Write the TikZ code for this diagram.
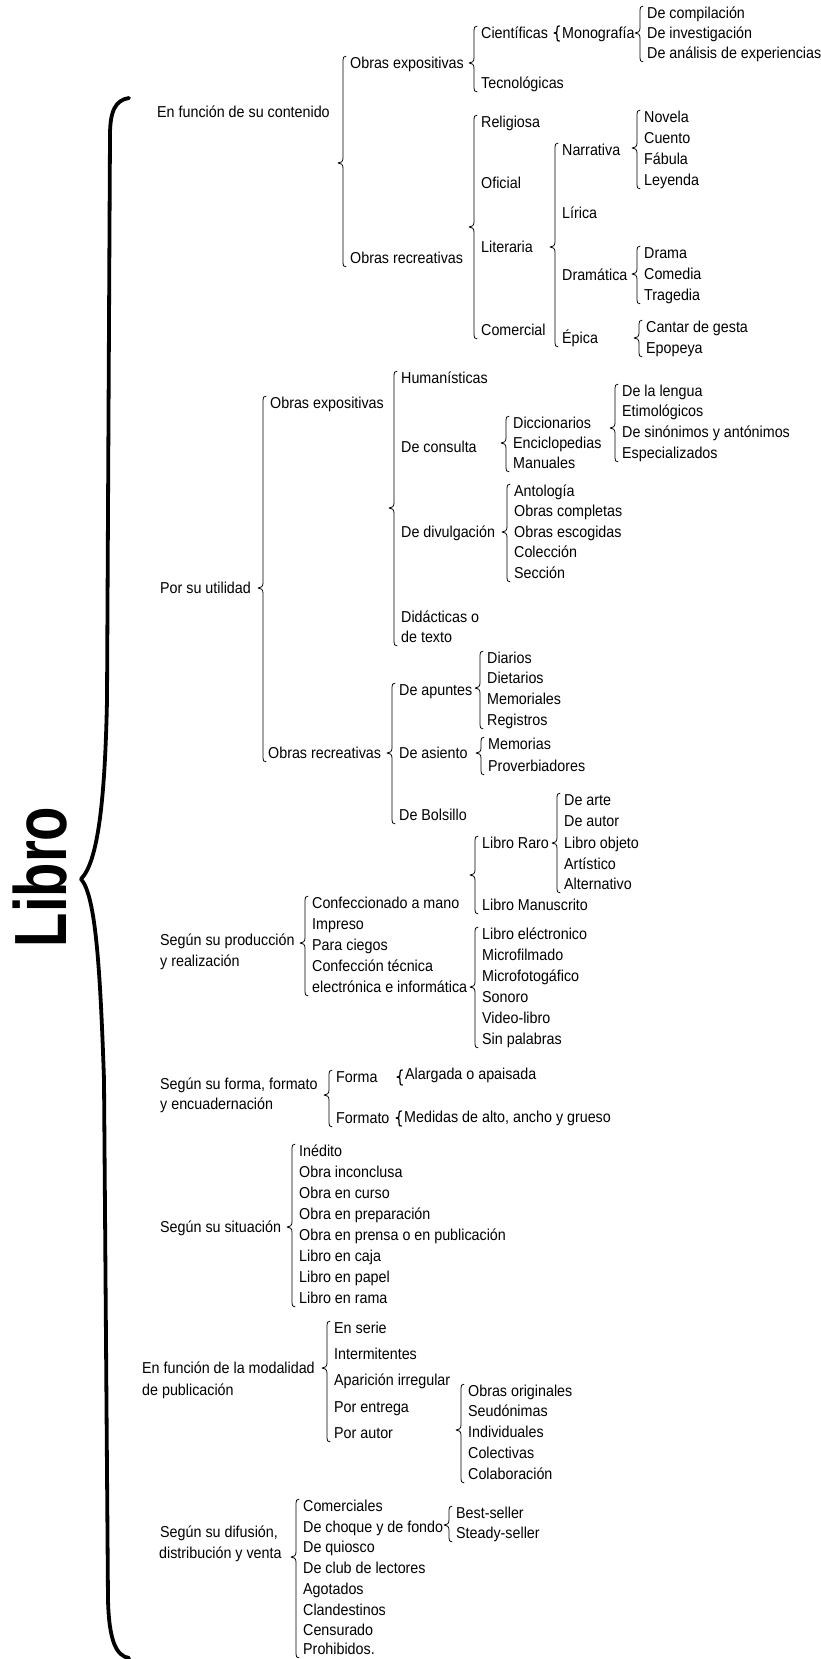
\documentclass[tikz,border=0pt]{standalone}
\usepackage{fontspec}
\setmainfont[FakeStretch=0.905]{Liberation Sans}
\newfontfamily\bigfont[FakeStretch=0.76]{Liberation Sans Bold}
\usetikzlibrary{calc}
\tikzset{
  lbl/.style={anchor=west, inner sep=0pt, text height=11.3pt, text depth=0pt, font=\fontsize{15.8}{18}\selectfont},
  brc/.style={line width=0.8pt, line cap=round, line join=round},
  sbrc/.style={line width=1.2pt, line cap=round, line join=round},
  bigbrc/.style={line width=3.8pt, line cap=round, line join=round},
}
% text node: name, x, y(center of capitals), text
\newcommand\Lb[4]{\node[lbl] (#1) at (#2,#3) {#4};}
% brace: [tip offset in px, downward] parent, first child, last child
\newcommand\Brc[4][0]{%
  \draw[brc] let \p1=(#3.north west), \p2=(#4.south west), \p3=(#2.west),
    \n1={\x1-7pt}, \n2={\y1+1pt}, \n3={\y2-3pt}, \n4={\y3-(#1)*1pt} in
    ({\n1+3pt},\n2) .. controls ({\n1+0.5pt},\n2) and (\n1,{\n2-1.5pt}) .. (\n1,{\n2-4pt})
    -- (\n1,{\n4+5pt}) .. controls (\n1,{\n4+1.5pt}) and ({\n1-2pt},\n4) .. ({\n1-5pt},\n4)
    .. controls ({\n1-2pt},\n4) and (\n1,{\n4-1.5pt}) .. (\n1,{\n4-5pt})
    -- (\n1,{\n3+4pt}) .. controls (\n1,{\n3+1.5pt}) and ({\n1+0.5pt},\n3) .. ({\n1+3pt},\n3);}
% small brace for one child: parent, child
\newcommand\SBrc[2]{%
  \draw[sbrc] let \p1=(#2.west), \p2=(#1.west), \n1={\x1-5pt}, \n4={\y2} in
    ({\n1+2.5pt},{\n4+7pt}) .. controls ({\n1+0.3pt},{\n4+7pt}) .. (\n1,{\n4+4pt})
    -- (\n1,{\n4+2.5pt}) .. controls (\n1,{\n4+0.5pt}) .. ({\n1-3pt},\n4)
    .. controls (\n1,{\n4-0.5pt}) .. (\n1,{\n4-2.5pt})
    -- (\n1,{\n4-5pt}) .. controls ({\n1+0.3pt},{\n4-8pt}) .. ({\n1+2.5pt},{\n4-8pt});}
\begin{document}
\begin{tikzpicture}[x=1pt,y=-1pt]
\fill[white] (0,0) rectangle (821,1659);
\useasboundingbox (0,0) rectangle (821,1659);

% ---- Libro and main brace
\node[rotate=90, inner sep=0pt, font=\bigfont\fontsize{74}{80}\selectfont] (libro) at (40,877) {Libro};
\coordinate (bbt) at (129,98);
\coordinate (bbm) at (81,879);
\coordinate (bbb) at (129,1658);
\draw[bigbrc] (bbt) .. controls (116,100) and (110,110) .. (110,135) -- (107,700)
  .. controls (105,800) and (98,862) .. (bbm)
  .. controls (95,895) and (100,960) .. (104,1080) -- (108,1600)
  .. controls (109,1640) and (116,1656) .. (bbb);

% ---- En función de su contenido
\Lb{a0}{157}{112}{En función de su contenido}
\Lb{a1}{350}{63}{Obras expositivas}
\Lb{a11}{481}{33}{Científicas}
\Lb{a111}{562}{33}{Monografía}
\Lb{a1111}{647}{13}{De compilación}
\Lb{a1112}{647}{33}{De investigación}
\Lb{a1113}{647}{53}{De análisis de experiencias}
\Lb{a12}{481}{83}{Tecnológicas}
\Lb{a2}{350}{258}{Obras recreativas}
\Lb{a21}{481}{122}{Religiosa}
\Lb{a22}{481}{183}{Oficial}
\Lb{a23}{481}{247}{Literaria}
\Lb{a24}{481}{330}{Comercial}
\Lb{n0}{562}{150}{Narrativa}
\Lb{n1}{644}{117}{Novela}
\Lb{n2}{644}{138}{Cuento}
\Lb{n3}{644}{159}{Fábula}
\Lb{n4}{644}{180}{Leyenda}
\Lb{li}{562}{213}{Lírica}
\Lb{d0}{562}{275}{Dramática}
\Lb{d1}{644}{253}{Drama}
\Lb{d2}{644}{274}{Comedia}
\Lb{d3}{644}{295}{Tragedia}
\Lb{e0}{562}{338}{Épica}
\Lb{e1}{646}{327}{Cantar de gesta}
\Lb{e2}{646}{348}{Epopeya}
\Brc[51]{a0}{a1}{a2}
\Brc{a1}{a11}{a12}
\SBrc{a11}{a111}
\Brc{a111}{a1111}{a1113}
\Brc[-31]{a2}{a21}{a24}
\Brc{a23}{n0}{e0}
\Brc[-2]{n0}{n1}{n4}
\Brc[-1]{d0}{d1}{d3}
\Brc{e0}{e1}{e2}

% ---- Por su utilidad
\Lb{b0}{160}{588}{Por su utilidad}
\Lb{b1}{270}{403}{Obras expositivas}
\Lb{b11}{401}{378}{Humanísticas}
\Lb{b12}{401}{447}{De consulta}
\Lb{c1}{513}{423}{Diccionarios}
\Lb{c2}{513}{443}{Enciclopedias}
\Lb{c3}{513}{463}{Manuales}
\Lb{l1}{622}{391}{De la lengua}
\Lb{l2}{622}{411}{Etimológicos}
\Lb{l3}{622}{432}{De sinónimos y antónimos}
\Lb{l4}{622}{453}{Especializados}
\Lb{b13}{401}{532}{De divulgación}
\Lb{v1}{514}{491}{Antología}
\Lb{v2}{514}{511}{Obras completas}
\Lb{v3}{514}{532}{Obras escogidas}
\Lb{v4}{514}{552}{Colección}
\Lb{v5}{514}{573}{Sección}
\Lb{b14}{401}{617}{Didácticas o}
\Lb{b14b}{401}{637}{de texto}
\Lb{b2}{268}{753}{Obras recreativas}
\Lb{b21}{399}{690}{De apuntes}
\Lb{p1}{487}{658}{Diarios}
\Lb{p2}{487}{678}{Dietarios}
\Lb{p3}{487}{699}{Memoriales}
\Lb{p4}{487}{720}{Registros}
\Lb{b22}{399}{753}{De asiento}
\Lb{s1}{488}{744}{Memorias}
\Lb{s2}{488}{766}{Proverbiadores}
\Lb{b23}{399}{815}{De Bolsillo}
\Brc{b0}{b1}{b2}
\Brc[105]{b1}{b11}{b14b}
\Brc[-4]{b12}{c1}{c3}
\Brc[5]{c1}{l1}{l4}
\Brc{b13}{v1}{v5}
\Brc{b2}{b21}{b23}
\Brc[-2]{b21}{p1}{p4}
\Brc{b22}{s1}{s2}

% ---- Según su producción y realización
\Lb{g0}{160}{940}{Según su producción}
\Lb{g0b}{160}{961}{y realización}
\Lb{g1}{312}{903}{Confeccionado a mano}
\Lb{g2}{312}{924}{Impreso}
\Lb{g3}{312}{945}{Para ciegos}
\Lb{g4}{312}{966}{Confección técnica}
\Lb{g4b}{312}{987}{electrónica e informática}
\Lb{r0}{482}{843}{Libro Raro}
\Lb{r1}{564}{800}{De arte}
\Lb{r2}{564}{821}{De autor}
\Lb{r3}{564}{843}{Libro objeto}
\Lb{r4}{564}{864}{Artístico}
\Lb{r5}{564}{884}{Alternativo}
\Lb{m0}{482}{905}{Libro Manuscrito}
\Lb{t1}{482}{934}{Libro eléctronico}
\Lb{t2}{482}{955}{Microfilmado}
\Lb{t3}{482}{976}{Microfotogáfico}
\Lb{t4}{482}{997}{Sonoro}
\Lb{t5}{482}{1018}{Video-libro}
\Lb{t6}{482}{1039}{Sin palabras}
\Brc[3]{g0}{g1}{g4b}
\Brc[-28]{g1}{r0}{m0}
\Brc{r0}{r1}{r5}
\Brc{g4b}{t1}{t6}

% ---- Según su forma
\Lb{f0}{160}{1084}{Según su forma, formato}
\Lb{f0b}{160}{1104}{y encuadernación}
\Lb{f1}{336}{1077}{Forma}
\Lb{f11}{405}{1074}{Alargada o apaisada}
\Lb{f2}{336}{1118}{Formato}
\Lb{f21}{404}{1117}{Medidas de alto, ancho y grueso}
\Brc[11]{f0}{f1}{f2}
\SBrc{f1}{f11}
\SBrc{f2}{f21}

% ---- Según su situación
\Lb{h0}{160}{1227}{Según su situación}
\Lb{h1}{299}{1151}{Inédito}
\Lb{h2}{299}{1172}{Obra inconclusa}
\Lb{h3}{299}{1193}{Obra en curso}
\Lb{h4}{299}{1214}{Obra en preparación}
\Lb{h5}{299}{1235}{Obra en prensa o en publicación}
\Lb{h6}{299}{1256}{Libro en caja}
\Lb{h7}{299}{1277}{Libro en papel}
\Lb{h8}{299}{1298}{Libro en rama}
\Brc{h0}{h1}{h8}

% ---- Modalidad de publicación
\Lb{k0}{142}{1368}{En función de la modalidad}
\Lb{k0b}{142}{1390}{de publicación}
\Lb{k1}{334}{1328}{En serie}
\Lb{k2}{334}{1354}{Intermitentes}
\Lb{k3}{334}{1380}{Aparición irregular}
\Lb{k4}{334}{1407}{Por entrega}
\Lb{k5}{334}{1433}{Por autor}
\Lb{o1}{468}{1391}{Obras originales}
\Lb{o2}{468}{1411}{Seudónimas}
\Lb{o3}{468}{1432}{Individuales}
\Lb{o4}{468}{1453}{Colectivas}
\Lb{o5}{468}{1474}{Colaboración}
\Brc{k0}{k1}{k5}
\Brc[-3]{k5}{o1}{o5}

% ---- Difusión
\Lb{q0}{160}{1532}{Según su difusión,}
\Lb{q0b}{159}{1553}{distribución y venta}
\Lb{q1}{303}{1506}{Comerciales}
\Lb{q2}{303}{1527}{De choque y de fondo}
\Lb{q3}{303}{1547}{De quiosco}
\Lb{q4}{303}{1568}{De club de lectores}
\Lb{q5}{303}{1589}{Agotados}
\Lb{q6}{303}{1610}{Clandestinos}
\Lb{q7}{303}{1630}{Censurado}
\Lb{q8}{303}{1649}{Prohibidos.}
\Lb{w1}{456}{1513}{Best-seller}
\Lb{w2}{456}{1533}{Steady-seller}
\Brc[4]{q0b}{q1}{q8}
\Brc[-2]{q2}{w1}{w2}
\end{tikzpicture}
\end{document}
